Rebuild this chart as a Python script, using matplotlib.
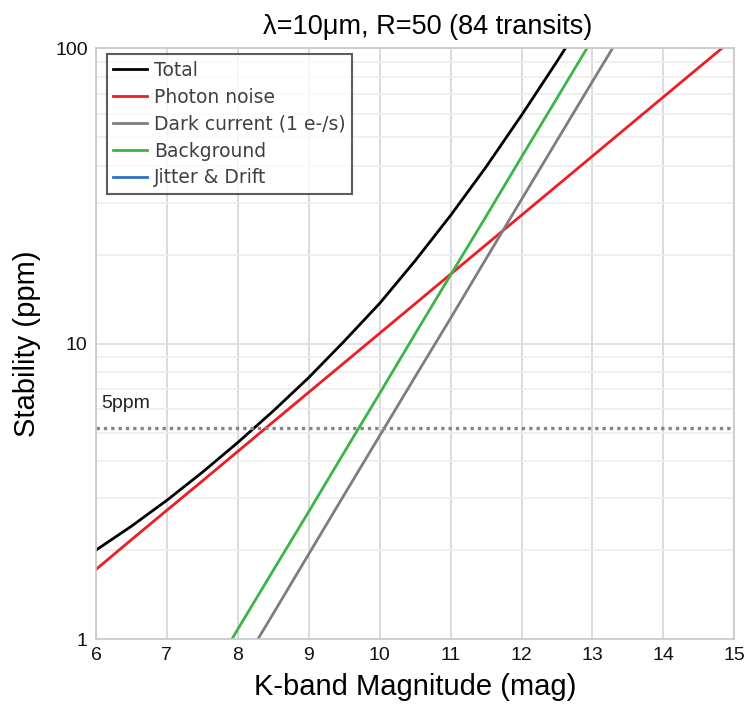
import numpy as np
import matplotlib
matplotlib.use("Agg")
from matplotlib import pyplot as plt
from matplotlib.ticker import FixedLocator, NullFormatter

plt.rcParams['font.family'] = ['Liberation Sans', 'DejaVu Sans']

# K-band magnitudes (half-mag steps)
mag = [6, 6.5, 7, 7.5, 8, 8.5, 9, 9.5, 10, 10.5, 11, 11.5, 12, 12.5, 13,
       13.5, 14, 14.5, 15]

# stability in ppm for each noise term
total = [2.00, 2.41, 2.95, 3.67, 4.63, 5.92, 7.68, 10.2, 13.7, 19.1, 27.2,
         39.7, 59.4, 90.4, 139.4]
photon = [1.72, 2.17, 2.73, 3.43, 4.32, 5.44, 6.85, 8.62, 10.85, 13.66, 17.2,
          21.65, 27.25, 34.3, 43.2, 54.4, 68.5, 86.2, 108.5]
mag_bg = [7.5, 8, 8.5, 9, 9.5, 10, 10.5, 11, 11.5, 12, 12.5, 13]
background = [0.68, 1.08, 1.71, 2.70, 4.29, 6.79, 10.8, 17.1, 27.0, 42.9,
              67.9, 107.6]
mag_dark = [8, 8.5, 9, 9.5, 10, 10.5, 11, 11.5, 12, 12.5, 13, 13.5]
dark = [0.77, 1.22, 1.94, 3.08, 4.88, 7.73, 12.2, 19.4, 30.8, 48.8, 77.3, 122]
jitter = [0.95, 0.95, 0.95, 0.95, 0.95, 0.95, 0.95, 0.95, 0.95, 0.95, 0.95,
          0.95, 0.95, 0.95, 0.95, 0.95, 0.95, 0.95, 0.95]
limit_ppm = 5.2

fig = plt.figure(figsize=(7.44, 7.09), dpi=100)
ax = fig.add_axes([0.129, 0.0987, 0.858, 0.833])

lw = 2.0
ax.plot(mag[:len(total)], total, color='black', lw=lw, label='Total')
ax.plot(mag, photon, color='#ee1c25', lw=lw, label='Photon noise')
ax.plot(mag_dark, dark, color='#7d7d83', lw=lw, label='Dark current (1 e-/s)')
ax.plot(mag_bg, background, color='#3ab54a', lw=lw, label='Background')
ax.plot(mag, jitter, color='#2f6fc4', lw=lw, label='Jitter & Drift')
ax.axhline(limit_ppm, color='#858585', lw=2.4, ls=(0, (1, 1.2)))
ax.text(6.08, limit_ppm * 1.13, '5ppm', fontsize=14, color='#222222',
        va='bottom', ha='left')

ax.set_yscale('log')
ax.set_xlim(6, 15)
ax.set_ylim(1, 100)
ax.set_xticks(range(6, 16))
ax.yaxis.set_major_locator(FixedLocator([1, 10, 100]))
ax.set_yticklabels(['1', '10', '100'])
ax.yaxis.set_minor_locator(FixedLocator(
    [k * d for d in (1, 10) for k in range(2, 10)]))
ax.yaxis.set_minor_formatter(NullFormatter())
ax.tick_params(which='both', length=0, labelsize=14, colors='#111111', pad=6)

ax.grid(True, which='major', axis='x', color='#d4d4d4', lw=1.2)
ax.grid(True, which='major', axis='y', color='#dedede', lw=1.2)
ax.grid(True, which='minor', axis='y', color='#ededed', lw=1.2)
ax.set_axisbelow(True)
for sp in ax.spines.values():
    sp.set_color('#c8c8c8')
    sp.set_linewidth(1.2)

ax.set_xlabel('K-band Magnitude (mag)', fontsize=21, labelpad=6)
ax.set_ylabel('Stability (ppm)', fontsize=21, labelpad=10)
fig.text(0.575, 0.962, 'λ=10μm, R=50 (84 transits)', fontsize=19.5,
         ha='center', va='center')

leg = ax.legend(loc='upper left', bbox_to_anchor=(0.017, 0.99),
                prop={'family': 'DejaVu Sans', 'size': 13.5},
                frameon=True, fancybox=False, handlelength=1.8,
                handletextpad=0.35, borderpad=0.35, labelspacing=0.42,
                borderaxespad=0)
leg.get_frame().set_edgecolor('#333333')
leg.get_frame().set_linewidth(1.5)
for t in leg.get_texts():
    t.set_color('#404040')

fig.savefig('out.png', dpi=100)
